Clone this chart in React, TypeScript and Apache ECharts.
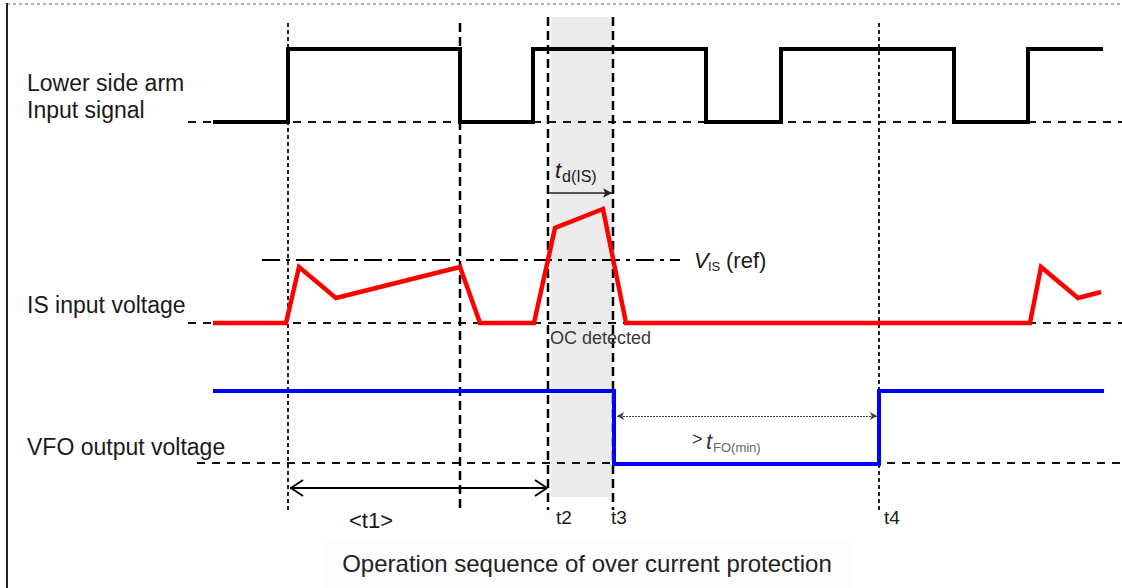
import React, { useEffect, useRef } from "react";
import * as echarts from "echarts";

// ---- coordinate frame (time axis / vertical level axis of the drawing) ----
const TIME_MAX = 1122;
const LEVEL_MAX = 588;

// ---- Lower side arm input signal (black) ----
const inputT = [213, 288, 288, 460, 460, 533, 533, 706, 706, 781, 781, 954, 954, 1028, 1028, 1103];
const inputY = [122, 122, 49, 49, 122, 122, 49, 49, 122, 122, 49, 49, 122, 122, 49, 49];

// ---- IS input voltage (red) ----
const isT = [213, 286, 299, 336, 460, 480, 534, 555, 603, 626, 1030, 1041, 1078, 1101];
const isY = [323, 323, 267, 298, 267, 323, 323, 228, 209, 323, 323, 267, 298, 292];

// ---- VFO output voltage (blue) ----
const vfoT = [213, 614, 614, 879, 879, 1104];
const vfoY = [391, 391, 464, 464, 391, 391];

// ---- dashed zero baselines ----
const baselineLevel = [122, 323, 463];
const baselineStart = [188, 188, 197];
const baselineEnd = [1122, 1122, 1122];

// ---- VIS(ref) threshold ----
const vrefLevel = 260;
const vrefStart = 262;
const vrefEnd = 680;

// ---- vertical time markers ----
const markerT = [288, 460, 548, 613, 879];
const markerTop = [23, 23, 17, 17, 23];
const markerBottom = [512, 512, 510, 510, 510];
const markerFine = [true, false, false, false, true];

// ---- OC detection window (shaded) ----
const bandT = [551, 613];
const bandLevel = [17, 497];

// ---- t1 interval arrow ----
const t1Level = 488;
const t1Start = 290;
const t1End = 547;
const t1HeadLeftT = [303, 291, 303];
const t1HeadLeftY = [480, 488, 496];
const t1HeadRightT = [535, 547, 535];
const t1HeadRightY = [480, 488, 496];

// ---- td(IS) arrow ----
const tdLevel = 193;
const tdStart = 549;
const tdEnd = 612;

// ---- tFO(min) arrow ----
const tfoLevel = 416;
const tfoStart = 617;
const tfoEnd = 877;

const zip = (a: number[], b: number[]) => a.map((v, i) => [v, b[i]]);

const FONT = "'Liberation Sans', Arial, sans-serif";

export default function App() {
  const ref = useRef<HTMLDivElement>(null);

  useEffect(() => {
    if (!ref.current) return;
    const chart = echarts.init(ref.current, undefined, { renderer: "svg" });

    const series: any[] = [];

    // shaded band (markArea) on an empty helper series
    series.push({
      type: "line",
      data: [],
      silent: true,
      z: 1,
      markArea: {
        silent: true,
        itemStyle: { color: "#ebebeb" },
        data: [[{ coord: [bandT[0], bandLevel[0]] }, { coord: [bandT[1], bandLevel[1]] }]],
      },
    });

    // baselines
    baselineLevel.forEach((lv, i) => {
      series.push({
        type: "line",
        symbol: "none",
        silent: true,
        data: [
          [baselineStart[i], lv],
          [baselineEnd[i], lv],
        ],
        lineStyle: { color: "#111", width: 2, type: [8, 7] },
      });
    });

    // vertical markers
    markerT.forEach((t, i) => {
      series.push({
        type: "line",
        symbol: "none",
        silent: true,
        data: [
          [t, markerTop[i]],
          [t, markerBottom[i]],
        ],
        lineStyle: markerFine[i]
          ? { color: "#222", width: 2, type: [4, 3] }
          : { color: "#000", width: 2.5, type: [9, 5] },
      });
    });

    // VIS(ref) dash-dot
    series.push({
      type: "line",
      symbol: "none",
      silent: true,
      data: [
        [vrefStart, vrefLevel],
        [vrefEnd, vrefLevel],
      ],
      lineStyle: { color: "#000", width: 2, type: [18, 6, 4, 6] },
    });

    // signals
    series.push({
      type: "line",
      symbol: "none",
      silent: true,
      data: zip(inputT, inputY),
      lineStyle: { color: "#000", width: 4, join: "miter", cap: "butt" },
    });
    series.push({
      type: "line",
      symbol: "none",
      silent: true,
      data: zip(isT, isY),
      lineStyle: { color: "#ff0000", width: 4.5, join: "miter" },
    });
    series.push({
      type: "line",
      symbol: "none",
      silent: true,
      data: zip(vfoT, vfoY),
      lineStyle: { color: "#0000ff", width: 4, join: "miter" },
    });

    // t1 arrow
    series.push({
      type: "line",
      symbol: "none",
      silent: true,
      data: [
        [t1Start, t1Level],
        [t1End, t1Level],
      ],
      lineStyle: { color: "#000", width: 2 },
    });
    series.push({
      type: "line",
      symbol: "none",
      silent: true,
      data: zip(t1HeadLeftT, t1HeadLeftY),
      lineStyle: { color: "#000", width: 2 },
    });
    series.push({
      type: "line",
      symbol: "none",
      silent: true,
      data: zip(t1HeadRightT, t1HeadRightY),
      lineStyle: { color: "#000", width: 2 },
    });

    // td(IS) and tFO(min) arrows via markLine
    series.push({
      type: "line",
      data: [],
      silent: true,
      markLine: {
        silent: true,
        animation: false,
        label: { show: false },
        data: [
          [
            {
              coord: [tdStart, tdLevel],
              symbol: "none",
              lineStyle: { color: "#222", width: 1.5, type: "solid" },
            },
            { coord: [tdEnd, tdLevel], symbol: "arrow", symbolSize: [7, 9] },
          ],
          [
            {
              coord: [tfoStart, tfoLevel],
              symbol: "arrow",
              symbolSize: [6, 7],
              lineStyle: { color: "#444", width: 1, type: [2, 1] },
            },
            { coord: [tfoEnd, tfoLevel], symbol: "arrow", symbolSize: [6, 7] },
          ],
        ],
      },
    });

    const txt = (x: number, y: number, text: string, extra: any = {}) => ({
      type: "text",
      x,
      y,
      z: 100,
      silent: true,
      style: {
        text,
        fill: "#1a1a1a",
        font: `23px ${FONT}`,
        textVerticalAlign: "middle",
        ...extra,
      },
    });

    const graphic: any[] = [
      // frame
      {
        type: "line",
        silent: true,
        z: 100,
        shape: { x1: 7, y1: 4, x2: 1122, y2: 4 },
        style: { stroke: "#666", lineWidth: 1, lineDash: [3, 3] },
      },
      {
        type: "line",
        silent: true,
        z: 100,
        shape: { x1: 7, y1: 3, x2: 7, y2: 588 },
        style: { stroke: "#222", lineWidth: 2 },
      },
      // caption background (very faint)
      {
        type: "rect",
        silent: true,
        z: 50,
        shape: { x: 322, y: 540, width: 530, height: 48 },
        style: { fill: "#fdfdfd" },
      },
      txt(27, 83, "Lower side arm"),
      txt(27, 110, "Input signal"),
      txt(27, 305, "IS input voltage"),
      txt(27, 447, "VFO output voltage"),
      txt(349, 520, "<t1>", { font: `22px ${FONT}` }),
      txt(556, 517, "t2", { font: `19px ${FONT}` }),
      txt(611, 517, "t3", { font: `19px ${FONT}` }),
      txt(884, 517, "t4", { font: `19px ${FONT}` }),
      txt(550, 338, "OC detected", { font: `18px ${FONT}`, fill: "#3a3a3a" }),
      // td(IS)
      txt(555, 170, "t", { font: `italic 22px ${FONT}` }),
      txt(562, 176, "d(IS)", { font: `16px ${FONT}` }),
      // VIS(ref)
      txt(694, 260, "V", { font: `italic 22px ${FONT}` }),
      txt(708, 266, "IS", { font: `13px ${FONT}` }),
      txt(726, 260, "(ref)", { font: `22px ${FONT}` }),
      // > tFO(min)
      txt(692, 439, ">", { font: `18px ${FONT}`, fill: "#333" }),
      txt(706, 441, "t", { font: `italic 22px ${FONT}`, fill: "#333" }),
      txt(713, 447, "FO(min)", { font: `13px ${FONT}`, fill: "#666" }),
      // caption
      txt(587, 563, "Operation sequence of over current protection", {
        font: `24px ${FONT}`,
        textAlign: "center",
        fill: "#222",
      }),
    ];

    chart.setOption({
      animation: false,
      backgroundColor: "#ffffff",
      grid: { left: 0, right: 0, top: 0, bottom: 0 },
      xAxis: { type: "value", min: 0, max: TIME_MAX, show: false },
      yAxis: { type: "value", min: 0, max: LEVEL_MAX, inverse: true, show: false },
      series,
      graphic,
    });

    return () => chart.dispose();
  }, []);

  return (
    <div
      ref={ref}
      style={{ position: "fixed", left: 0, top: 0, width: 1122, height: 588, background: "#fff" }}
    />
  );
}
